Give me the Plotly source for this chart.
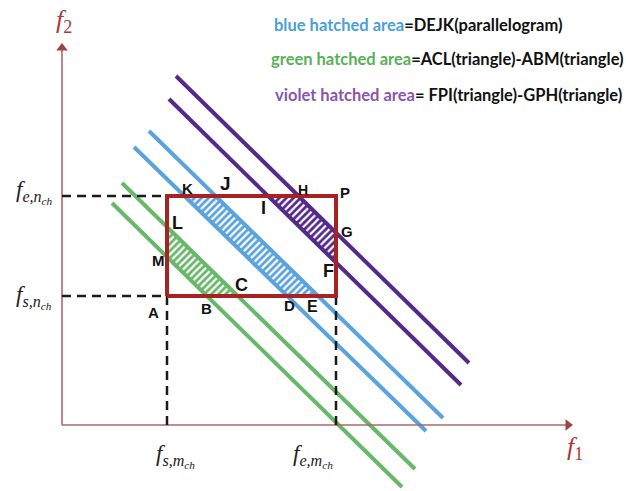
import plotly.graph_objects as go

# ---- canvas / coordinate frame -------------------------------------------
W, H = 626, 491
X_RANGE = [-1.24, 11.28]
Y_RANGE = [-1.32, 8.5]
AXIS_X_END = 10.12
AXIS_Y_END = 7.54

# ---- channel rectangle (f1: m-channel, f2: n-channel) --------------------
f_s_m, f_e_m = 2.10, 5.48
f_s_n, f_e_n = 2.58, 4.58

# ---- sloped constraint lines: (x0, y0, x1, y1) ----------------------------
green_lower = (1.00, 4.44, 6.80, -1.24)
green_upper = (1.20, 4.84, 7.06, -0.88)
blue_lower = (1.44, 5.56, 7.28, -0.12)
blue_upper = (1.74, 5.88, 7.62, 0.14)
violet_lower = (2.14, 6.52, 7.98, 0.80)
violet_upper = (2.28, 6.98, 8.14, 1.24)

GREEN = "#68b86a"
BLUE = "#5aa3de"
VIOLET = "#55288c"
RECT_RED = "#a82222"
AXIS_COL = "#a86a6a"
ARROW_COL = "#a04242"
TXT_RED = "#b03636"

legend_lines = [
    ("blue hatched area", "#4a9fd8", "=DEJK(parallelogram)"),
    ("green hatched area", "#58b058", "=ACL(triangle)-ABM(triangle)"),
    ("violet hatched area", "#8a55b0", "= FPI(triangle)-GPH(triangle)"),
]


def y_at(seg, x):
    x0, y0, x1, y1 = seg
    return y0 + (y1 - y0) * (x - x0) / (x1 - x0)


def x_at(seg, y):
    x0, y0, x1, y1 = seg
    return x0 + (x1 - x0) * (y - y0) / (y1 - y0)


# named vertices of the hatched regions
P = dict(
    A=(f_s_m, f_s_n),
    P=(f_e_m, f_e_n),
    L=(f_s_m, y_at(green_upper, f_s_m)),
    C=(x_at(green_upper, f_s_n), f_s_n),
    B=(x_at(green_lower, f_s_n), f_s_n),
    M=(f_s_m, y_at(green_lower, f_s_m)),
    K=(x_at(blue_lower, f_e_n), f_e_n),
    J=(x_at(blue_upper, f_e_n), f_e_n),
    E=(x_at(blue_upper, f_s_n), f_s_n),
    D=(x_at(blue_lower, f_s_n), f_s_n),
    I=(x_at(violet_lower, f_e_n), f_e_n),
    H=(x_at(violet_upper, f_e_n), f_e_n),
    G=(f_e_m, y_at(violet_upper, f_e_m)),
    F=(f_e_m, y_at(violet_lower, f_e_m)),
)

fig = go.Figure()

# hatched regions
for names, col in (("LCBM", GREEN), ("KJED", BLUE), ("IHGF", VIOLET)):
    xs = [P[n][0] for n in names] + [P[names[0]][0]]
    ys = [P[n][1] for n in names] + [P[names[0]][1]]
    fig.add_trace(go.Scatter(
        x=xs, y=ys, mode="lines", fill="toself", line=dict(width=0),
        fillcolor=col,
        fillpattern=dict(shape="/", fgcolor="white", bgcolor=col,
                         fgopacity=1, size=5, solidity=0.45),
        hoverinfo="skip", showlegend=False))

# sloped lines
for seg, col in ((green_lower, GREEN), (green_upper, GREEN),
                 (blue_lower, BLUE), (blue_upper, BLUE),
                 (violet_lower, VIOLET), (violet_upper, VIOLET)):
    fig.add_trace(go.Scatter(
        x=[seg[0], seg[2]], y=[seg[1], seg[3]], mode="lines",
        line=dict(color=col, width=4), hoverinfo="skip", showlegend=False))

# axes
fig.add_trace(go.Scatter(x=[0, AXIS_X_END], y=[0, 0], mode="lines",
                         line=dict(color=AXIS_COL, width=1.6),
                         hoverinfo="skip", showlegend=False))
fig.add_trace(go.Scatter(x=[0, 0], y=[0, AXIS_Y_END], mode="lines",
                         line=dict(color=AXIS_COL, width=1.6),
                         hoverinfo="skip", showlegend=False))
fig.add_trace(go.Scatter(x=[AXIS_X_END], y=[0], mode="markers",
                         marker=dict(symbol="triangle-right", size=10,
                                     color=ARROW_COL),
                         hoverinfo="skip", showlegend=False))
fig.add_trace(go.Scatter(x=[0], y=[AXIS_Y_END], mode="markers",
                         marker=dict(symbol="triangle-up", size=10,
                                     color=ARROW_COL),
                         hoverinfo="skip", showlegend=False))

# dashed projections onto the axes
dash = dict(color="#1a1a1a", width=2.5, dash="9px,6px")
for xs, ys in (([0, f_s_m], [f_e_n, f_e_n]), ([0, f_s_m], [f_s_n, f_s_n]),
               ([f_s_m, f_s_m], [0, f_s_n]), ([f_e_m, f_e_m], [0, f_s_n])):
    fig.add_trace(go.Scatter(x=xs, y=ys, mode="lines", line=dash,
                             hoverinfo="skip", showlegend=False))

# channel rectangle
fig.add_trace(go.Scatter(
    x=[f_s_m, f_e_m, f_e_m, f_s_m, f_s_m],
    y=[f_s_n, f_s_n, f_e_n, f_e_n, f_s_n], mode="lines",
    line=dict(color=RECT_RED, width=4), hoverinfo="skip", showlegend=False))

annotations = []

# vertex letters: name -> (xshift, yshift, size)
letter_style = dict(
    K=(3, 8, 15), J=(10, 13, 19), I=(-5, -12, 18), H=(4, 6, 14),
    P=(9, 4, 15), G=(11, 1, 15), F=(-8, -8, 18), L=(10, 4, 18),
    M=(-9, -4, 15), C=(4, 11, 18), B=(0, -12, 15), A=(-14, -16, 15),
    D=(2, -9, 15), E=(-6, -10, 16),
)
for name, (dx, dy, sz) in letter_style.items():
    annotations.append(dict(
        x=P[name][0], y=P[name][1], text=f"<b>{name}</b>", showarrow=False,
        xshift=dx, yshift=dy, xanchor="center", yanchor="middle",
        font=dict(family="Liberation Sans, Arial", size=sz, color="#111")))

# tick labels
math_font = dict(family="Liberation Serif, serif", size=23, color="#222")
ticks = [
    (f_s_m, 0, "<i>f</i><sub><i>s,m</i><sub><i>ch</i></sub></sub>", 8, -31),
    (f_e_m, 0, "<i>f</i><sub><i>e,m</i><sub><i>ch</i></sub></sub>", -23, -31),
    (0, f_e_n, "<i>f</i><sub><i>e,n</i><sub><i>ch</i></sub></sub>", -28, 4),
    (0, f_s_n, "<i>f</i><sub><i>s,n</i><sub><i>ch</i></sub></sub>", -28, -1),
]
for x, y, t, dx, dy in ticks:
    annotations.append(dict(x=x, y=y, text=t, showarrow=False, xshift=dx,
                            yshift=dy, xanchor="center", yanchor="middle",
                            font=math_font))

# axis titles
axis_font = dict(family="Liberation Serif, serif", size=26, color=TXT_RED)
annotations.append(dict(x=AXIS_X_END, y=0, text="<i>f</i><sub>1</sub>",
                        showarrow=False, xshift=7, yshift=-23,
                        xanchor="center", yanchor="middle", font=axis_font))
annotations.append(dict(x=0, y=AXIS_Y_END, text="<i>f</i><sub>2</sub>",
                        showarrow=False, xshift=2, yshift=27,
                        xanchor="center", yanchor="middle", font=axis_font))

# explanatory text block
legend_x = [272, 269, 273]
legend_y = [25, 59, 95]
for (word, col, rest), lx, ly in zip(legend_lines, legend_x, legend_y):
    annotations.append(dict(
        x=lx / W, y=1 - ly / H, xref="paper", yref="paper",
        text=f"<b><span style='color:{col}'>{word}</span>{rest}</b>",
        showarrow=False, xanchor="left", yanchor="middle",
        font=dict(family="Lato, sans-serif", size=16.5, color="#111")))

fig.update_layout(
    width=W, height=H, margin=dict(l=0, r=0, t=0, b=0),
    paper_bgcolor="white", plot_bgcolor="white",
    xaxis=dict(range=X_RANGE, visible=False, fixedrange=True),
    yaxis=dict(range=Y_RANGE, visible=False, fixedrange=True),
    annotations=annotations, showlegend=False,
)

fig.write_html("out.html")
